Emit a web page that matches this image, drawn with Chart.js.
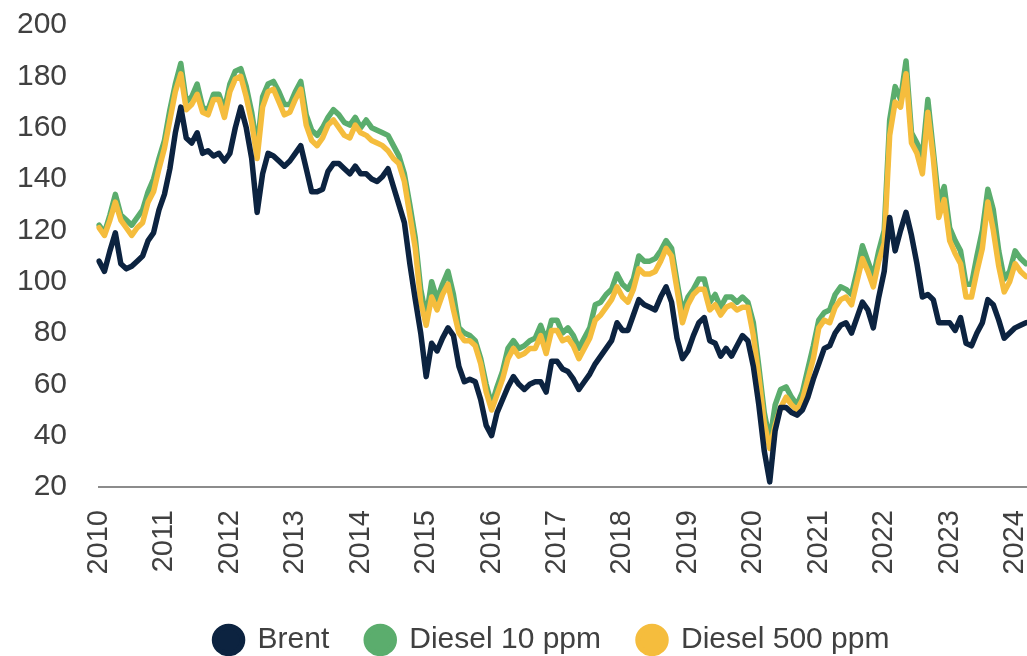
<!DOCTYPE html>
<html>
<head>
<meta charset="utf-8">
<title>Brent vs diesel</title>
<script src="https://cdn.jsdelivr.net/npm/chart.js@4.4.1/dist/chart.umd.min.js"></script>
<style>
  html, body { margin: 0; padding: 0; background: #fff; }
  #wrap { width: 1027px; height: 656px; position: relative; }
</style>
</head>
<body>
<div id="wrap"><canvas id="priceChart"></canvas></div>
<script>
// monthly series, Jan 2010 .. Mar 2024 (one row = one year)
const years = ['2010', '2011', '2012', '2013', '2014', '2015', '2016', '2017', '2018', '2019', '2020', '2021', '2022', '2023', '2024'];
const monthsInLastYear = 3;

const brent = [
  108, 104, 112, 119, 107, 105, 106, 108, 110, 116, 119, 128,
  134, 144, 158, 168, 156, 154, 158, 150, 151, 149, 150, 147,
  150, 160, 168, 160, 148, 127, 142, 150, 149, 147, 145, 147,
  150, 153, 144, 135, 135, 136, 143, 146, 146, 144, 142, 145,
  142, 142, 140, 139, 141, 144, 137, 130, 123, 107, 93, 80,
  63, 76, 73, 78, 82, 79, 67, 61, 62, 61, 54, 44,
  40, 49, 54, 59, 63, 60, 58, 60, 61, 61, 57, 69,
  69, 66, 65, 62, 58, 61, 64, 68, 71, 74, 77, 84,
  81, 81, 87, 93, 91, 90, 89, 94, 98, 92, 78, 70,
  73, 79, 84, 86, 77, 76, 71, 74, 71, 75, 79, 77,
  67, 52, 34, 22, 42, 51, 51, 49, 48, 50, 55, 62,
  68, 74, 75, 80, 83, 84, 80, 86, 92, 89, 82, 94,
  104, 125, 112, 120, 127, 118, 107, 94, 95, 93, 84, 84,
  84, 81, 86, 76, 75, 80, 84, 93, 91, 85, 78, 80,
  82, 83, 84
];

const diesel10 = [
  122, 119, 126, 134, 126, 124, 122, 125, 128, 135, 140, 148,
  155, 167, 177, 185, 170, 172, 177, 168, 167, 173, 173, 167,
  177, 182, 183, 176, 166, 152, 172, 177, 178, 174, 169, 169,
  174, 178, 165, 159, 157, 160, 164, 167, 165, 162, 161, 164,
  160, 163, 160, 159, 158, 157, 153, 149, 142, 130, 117, 97,
  86, 100, 93, 99, 104, 95, 82, 80, 79, 77, 70, 60,
  52, 59, 65, 74, 77, 74, 75, 77, 78, 83, 77, 85,
  85, 80, 82, 79, 74, 78, 82, 91, 92, 95, 97, 103,
  99, 97, 101, 110, 108, 108, 109, 112, 116, 113, 100, 88,
  94, 97, 101, 101, 92, 95, 90, 94, 94, 92, 94, 92,
  84, 67, 49, 38, 52, 58, 59, 55, 52, 57, 66, 75,
  85, 88, 89, 95, 98, 97, 95, 104, 114, 108, 102, 112,
  120, 163, 176, 171, 186, 158, 154, 149, 171, 151, 131, 137,
  121, 116, 112, 99, 99, 110, 120, 136, 128, 112, 101, 104,
  112, 109, 107
];

const diesel500 = [
  121, 118, 124, 131, 124, 121, 118, 121, 123, 131, 135, 144,
  152, 163, 174, 181, 167, 169, 173, 166, 165, 171, 171, 164,
  174, 179, 180, 172, 162, 148, 168, 174, 175, 170, 165, 166,
  171, 175, 161, 155, 153, 156, 161, 163, 160, 157, 156, 161,
  158, 157, 155, 154, 153, 151, 148, 146, 139, 126, 113, 92,
  83, 94, 89, 95, 99, 89, 80, 77, 77, 75, 68, 57,
  50, 56, 62, 70, 74, 71, 72, 74, 74, 79, 72, 81,
  81, 77, 78, 75, 70, 74, 78, 85, 87, 90, 93, 98,
  94, 92, 97, 105, 103, 103, 104, 108, 113, 110, 97, 84,
  91, 95, 97, 97, 89, 91, 87, 90, 91, 89, 90, 90,
  79, 63, 45, 35, 44, 51, 55, 52, 50, 54, 62, 70,
  82, 85, 84, 90, 93, 94, 91, 100, 109, 104, 98, 108,
  115, 157, 170, 168, 181, 154, 150, 142, 166, 148, 125, 132,
  116, 111, 107, 94, 94, 104, 113, 131, 120, 106, 96, 100,
  107, 104, 102
];

const yTicks = { min: 20, max: 200, step: 20 };

// one category per month, labelled "YYYY-MM"
const months = [];
years.forEach((y, i) => {
  const n = i === years.length - 1 ? monthsInLastYear : 12;
  for (let m = 1; m <= n; m++) months.push(y + '-' + String(m).padStart(2, '0'));
});

const textColor = '#404040';
const fontFamily = '"Liberation Sans", Arial, sans-serif';

function line(label, data, color, order) {
  return {
    label,
    data,
    order,
    borderColor: color,
    backgroundColor: color,
    borderWidth: 5.5,
    pointRadius: 0,
    pointHoverRadius: 0,
    tension: 0,
    borderJoinStyle: 'round',
    borderCapStyle: 'round',
    fill: false
  };
}

// legend sits centred under the plot, not the whole canvas
const legendShift = {
  id: 'legendShift',
  afterLayout(chart) {
    if (chart.legend) chart.legend.left += 61;
  }
};

new Chart(document.getElementById('priceChart'), {
  type: 'line',
  data: {
    labels: months,
    datasets: [
      line('Brent', brent, '#0c2340', 0),
      line('Diesel 10 ppm', diesel10, '#5bad6d', 2),
      line('Diesel 500 ppm', diesel500, '#f5bd3d', 1)
    ]
  },
  options: {
    responsive: true,
    maintainAspectRatio: false,
    animation: false,
    layout: { padding: { top: 25, right: 1, bottom: -9, left: 17 } },
    plugins: {
      tooltip: { enabled: false },
      legend: {
        position: 'bottom',
        labels: {
          usePointStyle: true,
          pointStyle: 'circle',
          pointStyleWidth: 28,
          boxHeight: 19,
          padding: 37,
          color: textColor,
          font: { family: fontFamily, size: 30 },
          sort: (a, b) => a.datasetIndex - b.datasetIndex
        }
      }
    },
    scales: {
      x: {
        type: 'category',
        offset: false,
        grid: { display: false, drawTicks: false },
        border: { display: true, color: '#8c8c8c', width: 2 },
        ticks: {
          autoSkip: false,
          minRotation: 90,
          maxRotation: 90,
          padding: 23,
          color: textColor,
          font: { family: fontFamily, size: 29 },
          callback: function (value, index) {
            const lbl = months[index];
            return lbl.endsWith('-01') ? lbl.slice(0, 4) : null;
          }
        },
        afterFit: (scale) => {
          scale.height = 101;
          scale.paddingLeft = 0;
          scale.paddingRight = 0;
        }
      },
      y: {
        min: yTicks.min,
        max: yTicks.max,
        grid: { display: false, drawTicks: false },
        border: { display: false },
        ticks: {
          stepSize: yTicks.step,
          padding: 32,
          color: textColor,
          font: { family: fontFamily, size: 30 }
        },
        afterFit: (scale) => {
          scale.width = 82;
          scale.paddingTop = 0;
          scale.paddingBottom = 0;
        }
      }
    }
  },
  plugins: [legendShift]
});
</script>
</body>
</html>
